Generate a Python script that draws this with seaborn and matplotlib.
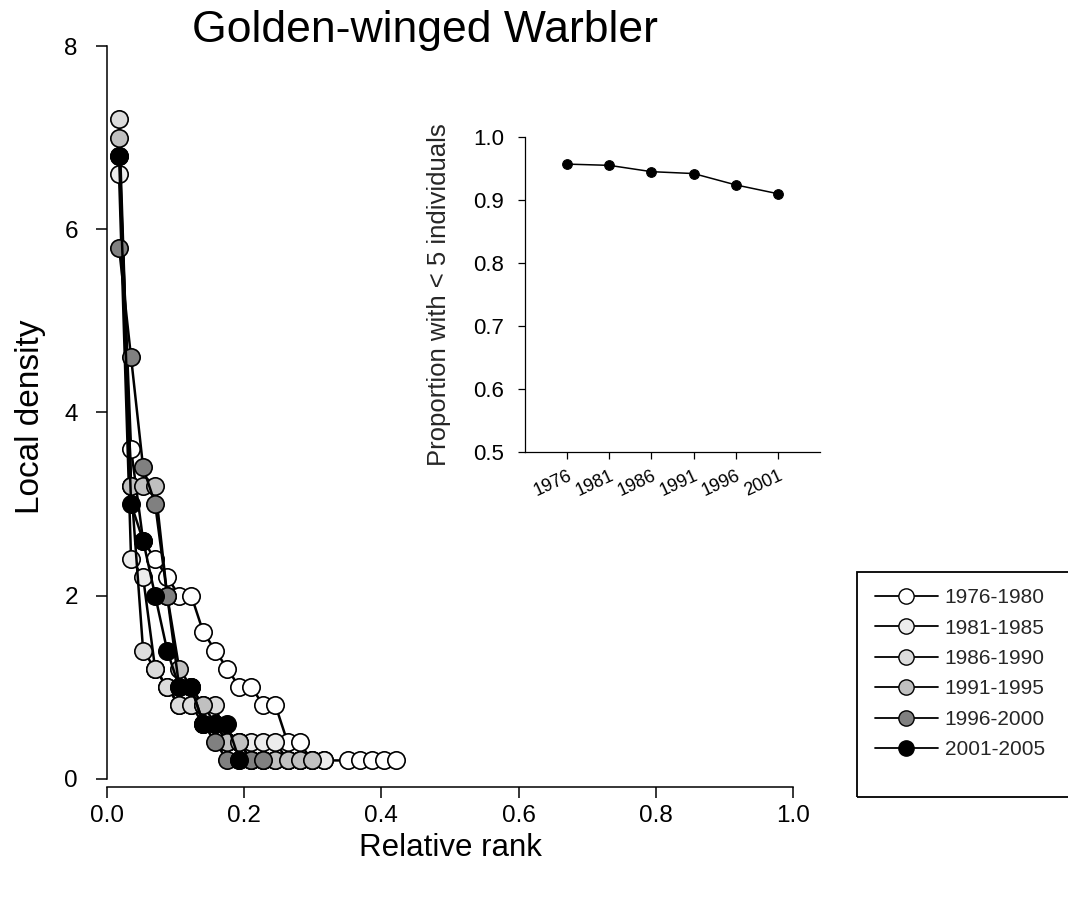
import matplotlib
matplotlib.use("Agg")
import matplotlib.pyplot as plt
from matplotlib.lines import Line2D
from matplotlib.patches import Rectangle
import numpy as np
import pandas as pd
import seaborn as sns

# Local density at each relative rank, one list per period
periods = ["1976-1980", "1981-1985", "1986-1990", "1991-1995", "1996-2000", "2001-2005"]
fills = ["#ffffff", "#ececec", "#dcdcdc", "#c0c0c0", "#808080", "#000000"]

n_sites = 57

ranks_1976 = [1, 2, 3, 4, 5, 6, 7, 8, 9, 10, 11, 12, 13, 14, 15, 16, 17, 18, 20, 21, 22, 23, 24]
dens_1976 = [6.8, 3.6, 2.6, 2.4, 2.2, 2.0, 2.0, 1.6, 1.4, 1.2, 1.0, 1.0, 0.8, 0.8, 0.4, 0.4,
             0.2, 0.2, 0.2, 0.2, 0.2, 0.2, 0.2]
dens_1981 = [6.6, 2.4, 2.2, 1.2, 1.0, 0.8, 0.8, 0.6, 0.6, 0.4, 0.4, 0.4, 0.4, 0.4, 0.2, 0.2, 0.2, 0.2]
dens_1986 = [7.2, 3.2, 1.4, 1.2, 1.0, 0.8, 0.8, 0.8, 0.8, 0.4, 0.4, 0.2, 0.2, 0.2, 0.2, 0.2]
dens_1991 = [7.0, 3.2, 3.2, 3.2, 2.0, 1.2, 1.0, 0.8, 0.6, 0.4, 0.4, 0.2, 0.2, 0.2, 0.2, 0.2, 0.2]
dens_1996 = [5.8, 4.6, 3.4, 3.0, 2.0, 1.0, 1.0, 0.6, 0.4, 0.2, 0.2, 0.2, 0.2]
dens_2001 = [6.8, 3.0, 2.6, 2.0, 1.4, 1.0, 1.0, 0.6, 0.6, 0.6, 0.2]

# Inset: proportion of sites holding fewer than 5 individuals
start_years = [1976, 1981, 1986, 1991, 1996, 2001]
prop_small = [0.957, 0.955, 0.945, 0.942, 0.924, 0.910]

sns.set_theme(style="ticks")
plt.rcParams["font.family"] = ["Liberation Sans", "DejaVu Sans"]

fig = plt.figure(figsize=(10.68, 9.02), dpi=100)
ax = fig.add_axes([0.1002, 0.1275, 0.6423, 0.8215])

series = [
    (ranks_1976, dens_1976),
    (list(range(1, len(dens_1981) + 1)), dens_1981),
    (list(range(1, len(dens_1986) + 1)), dens_1986),
    (list(range(1, len(dens_1991) + 1)), dens_1991),
    (list(range(1, len(dens_1996) + 1)), dens_1996),
    (list(range(1, len(dens_2001) + 1)), dens_2001),
]

for (ranks, dens), fill, label in zip(series, fills, periods):
    df = pd.DataFrame({"rank": np.array(ranks) / n_sites, "density": dens})
    sns.lineplot(data=df, x="rank", y="density", ax=ax, color="black", lw=1.8,
                 marker="o", markersize=12.5, markerfacecolor=fill,
                 markeredgecolor="black", markeredgewidth=1.2, sort=False,
                 estimator=None, legend=False, zorder=3)

ax.set_xlim(0, 1.0)
ax.set_ylim(-0.09, 8)
ax.spines["left"].set_bounds(0, 8)
ax.spines["right"].set_visible(False)
ax.spines["top"].set_visible(False)
for s in ("left", "bottom"):
    ax.spines[s].set_color("black")
    ax.spines[s].set_linewidth(1.1)
ax.set_xticks([0, 0.2, 0.4, 0.6, 0.8, 1.0])
ax.set_xticklabels(["0.0", "0.2", "0.4", "0.6", "0.8", "1.0"])
ax.set_yticks([0, 2, 4, 6, 8])
ax.tick_params(axis="both", direction="out", length=8, width=1.1, color="black",
               labelsize=17.5, labelcolor="black")
ax.tick_params(axis="y", pad=13)
ax.tick_params(axis="x", pad=5)
ax.set_xlabel("Relative rank", fontsize=22.5, color="black")
ax.set_ylabel("Local density", fontsize=24, labelpad=13, color="black")
ax.xaxis.set_label_coords(0.5, -0.062)

fig.text(0.398, 0.966, "Golden-winged Warbler", ha="center", va="center",
         fontsize=32, color="black")

# Legend, with a box whose right edge runs off the figure
handles = [Line2D([0], [0], color="black", lw=1.3, marker="o", markersize=11,
                  markerfacecolor=f, markeredgecolor="black", markeredgewidth=1.0)
           for f in fills]
fig.legend(handles, periods, loc="upper left", bbox_to_anchor=(0.8193, 0.348),
           frameon=False, fontsize=15, handlelength=3.0, handletextpad=0.35,
           labelspacing=0.55, borderpad=0, borderaxespad=0)
fig.patches.append(Rectangle((857 / 1068, 1 - 797 / 902), 0.3, 225 / 902,
                             transform=fig.transFigure, fill=False,
                             edgecolor="black", linewidth=1.3))

# Inset panel
ins = fig.add_axes([0.4916, 0.4989, 0.2762, 0.3492])
ins_df = pd.DataFrame({"year": start_years, "prop": prop_small})
sns.lineplot(data=ins_df, x="year", y="prop", ax=ins, color="black", lw=1.1,
             marker="o", markersize=7, markerfacecolor="black",
             markeredgecolor="black", estimator=None, legend=False)
ins.set_xlim(1971, 2006)
ins.set_ylim(0.5, 1.0)
ins.set_yticks([0.5, 0.6, 0.7, 0.8, 0.9, 1.0])
ins.set_yticklabels(["0.5", "0.6", "0.7", "0.8", "0.9", "1.0"])
ins.set_xticks(start_years)
ins.set_xticklabels([str(y) for y in start_years], rotation=25, ha="right",
                    rotation_mode="anchor")
ins.spines["right"].set_visible(False)
ins.spines["top"].set_visible(False)
for s in ("left", "bottom"):
    ins.spines[s].set_color("black")
    ins.spines[s].set_linewidth(0.9)
ins.tick_params(axis="y", direction="out", length=5, width=0.9, labelsize=16, pad=10,
                colors="black")
ins.tick_params(axis="x", direction="out", length=5, width=0.9, labelsize=13, pad=6,
                colors="black")
ins.set_xlabel("")
ins.set_ylabel("Proportion with < 5 individuals", fontsize=18.5, labelpad=16)
ins.patch.set_alpha(0)

fig.savefig("out.png", dpi=100, facecolor="white")
